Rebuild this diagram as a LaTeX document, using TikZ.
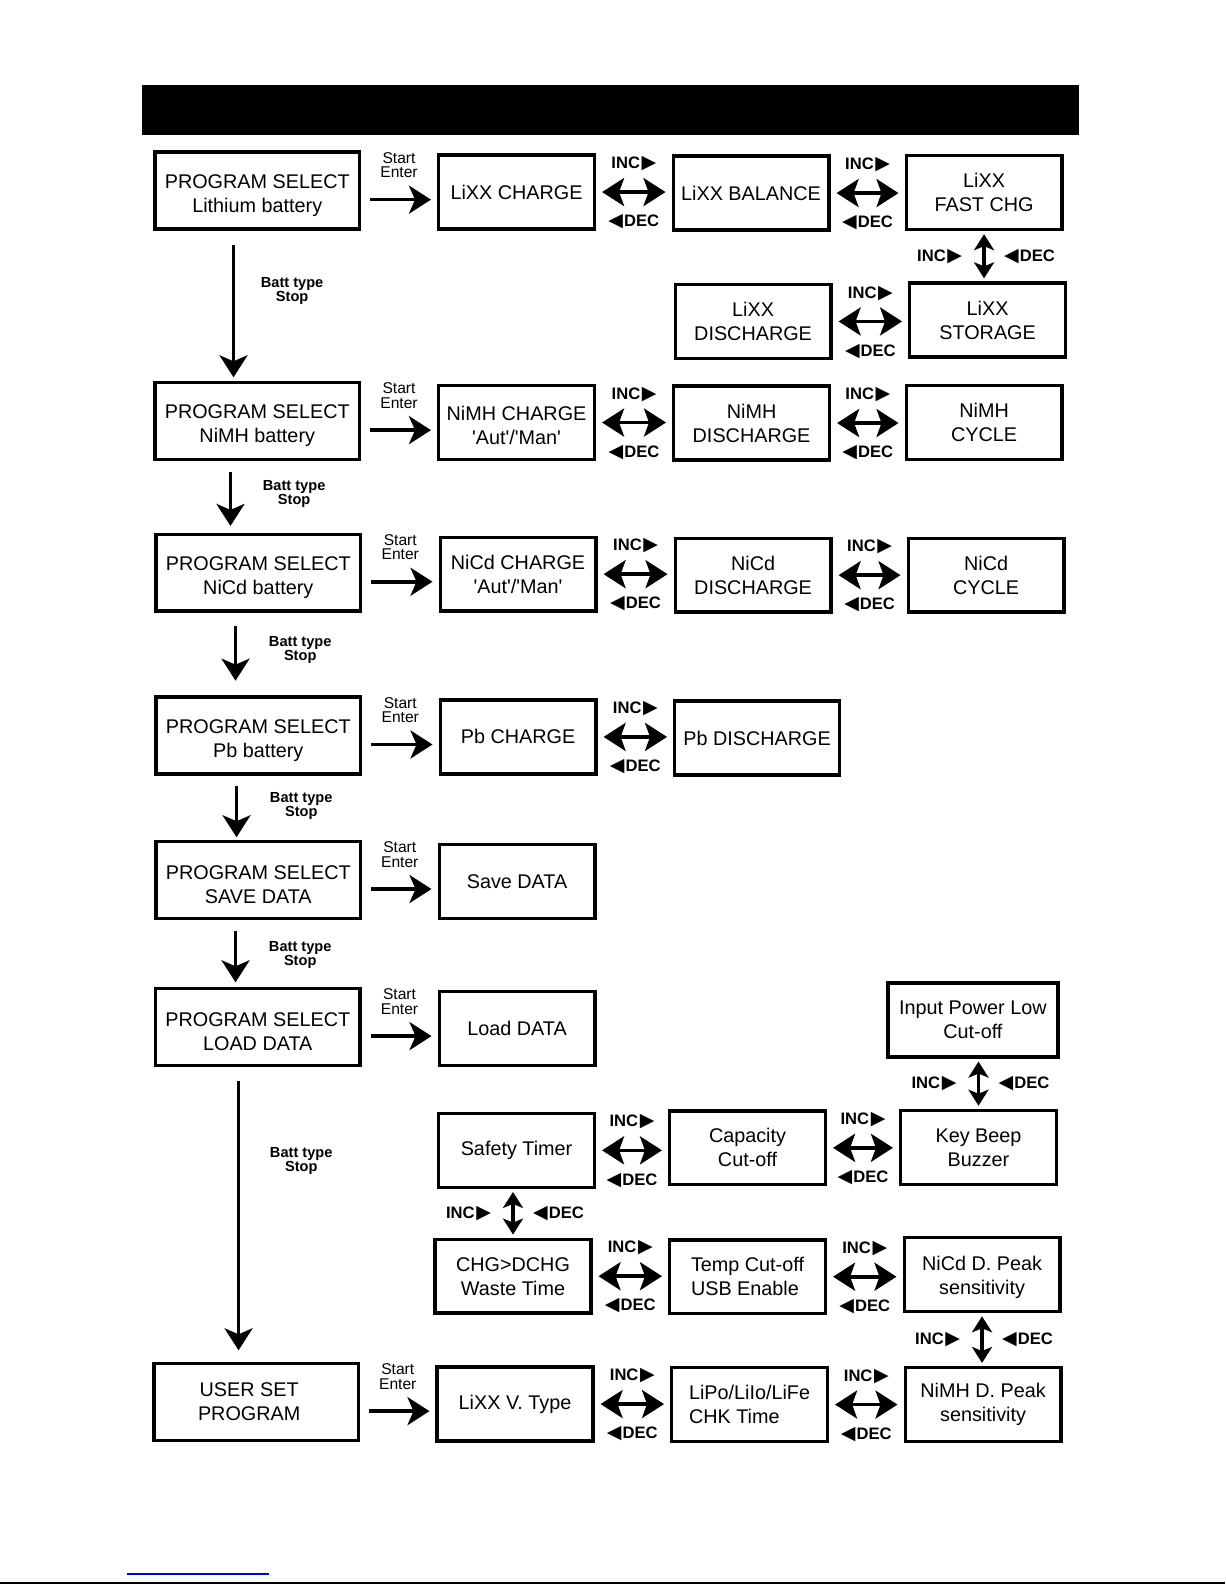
\documentclass[tikz,border=0pt]{standalone}
\usepackage{fontspec}
\setmainfont{Liberation Sans}
\newfontfamily\plainfont{Liberation Sans}
\newfontfamily\symfont{DejaVu Sans}
\usetikzlibrary{arrows.meta}

\newlength\px
\setlength\px{0.50535pt}

\tikzset{
  box/.style={draw, line width=1.7pt, minimum width=154\px, minimum height=73\px,
    inner sep=0pt, align=center, font=\plainfont\fontsize{9.9}{12}\selectfont},
  selbox/.style={box, minimum width=202\px, minimum height=76\px},
  go/.style={line width=1.8pt, -{Stealth[length=11pt,width=14pt,inset=3pt]}},
  dbl/.style={line width=1.8pt, shorten <=3pt, shorten >=3pt,
    {Stealth[length=11pt,width=14pt,inset=2.5pt]}-{Stealth[length=11pt,width=14pt,inset=2.5pt]}},
  vdbl/.style={line width=1.8pt, shorten <=1.5pt, shorten >=1.5pt,
    {Stealth[length=8pt,width=10pt,inset=2pt]}-{Stealth[length=8pt,width=10pt,inset=2pt]}},
  keylab/.style={inner sep=0pt, font=\bfseries\fontsize{8.3}{8.3}\selectfont},
  startlab/.style={inner sep=0pt, align=center, font=\fontsize{7.8}{7.2}\selectfont},
  battlab/.style={inner sep=0pt, align=center, font=\bfseries\fontsize{7.3}{7}\selectfont}
}

\newcommand{\rtri}{\kern0.8pt{\symfont\fontsize{9.5}{9.5}\selectfont ▶}}
\newcommand{\ltri}{{\symfont\fontsize{9.5}{9.5}\selectfont ◀}\kern0.5pt}
\newcommand{\psel}[1]{\rule{0pt}{12pt}PROGRAM SELECT\\#1}

% INC/DEC arrow between two boxes in a row
\newcommand{\hlink}[2]{%
  \draw[dbl] (#1.east) -- (#1.east -| #2.west)
    node[keylab, midway, yshift=28\px] (#1-#2-inc) {INC\rtri}
    node[keylab, midway, yshift=-29.5\px] (#1-#2-dec) {\ltri DEC};}
% INC/DEC arrow between two boxes in a column
\newcommand{\vlink}[3]{%
  \draw[vdbl] (#1.south -| #3) -- (#2.north -| #3)
    node[keylab, midway, xshift=-44\px] (#1-#2-inc) {INC\rtri}
    node[keylab, midway, xshift=45\px] (#1-#2-dec) {\ltri DEC};}
% Start/Enter arrow
\newcommand{\startlink}[2]{%
  \draw[go, shorten <=4.5pt, shorten >=3pt] ([yshift=-9\px]#1.east) -- ([yshift=-9\px]#1.east -| #2.west)
    node[startlab, midway, yshift=34\px] (#1-start) {Start\\Enter};}

\begin{document}
\begin{tikzpicture}[x=1\px, y=-1\px]
  \useasboundingbox (0,0) rectangle (1212,1568);
  \fill (140,84) rectangle (1067,134);

  % program select column
  \node[selbox] (psli)    at (254.5,188.5) {\psel{Lithium battery}};
  \node[selbox] (psnimh)  at (254.5,416.5) {\psel{NiMH battery}};
  \node[selbox] (psnicd)  at (255.5,566.5) {\psel{NiCd battery}};
  \node[selbox] (pspb)    at (255.5,727.5) {\psel{Pb battery}};
  \node[selbox] (pssave)  at (255.5,870.5) {\psel{SAVE DATA}};
  \node[selbox] (psload)  at (255,1016)    {\psel{LOAD DATA}};
  \node[selbox] (userset) at (253.5,1387)  {USER SET\hspace*{14\px}\\PROGRAM\hspace*{14\px}};

  % lithium
  \node[box] (lichg)  at (511,190)   {LiXX CHARGE};
  \node[box] (libal)  at (743,191)   {LiXX BALANCE};
  \node[box] (lifast) at (973.5,190.5) {LiXX\\FAST CHG};
  \node[box] (lidis)  at (745,318)   {LiXX\\DISCHARGE};
  \node[box] (listor) at (977,316.5) {LiXX\\STORAGE};

  % nimh / nicd / pb
  \node[box] (nimhchg) at (511,418)   {\rule{0pt}{10pt}NiMH CHARGE\\'Aut'/'Man'};
  \node[box] (nimhdis) at (743.5,418.5) {NiMH\\DISCHARGE};
  \node[box] (nimhcyc) at (973.5,418) {NiMH\\CYCLE};
  \node[box] (nicdchg) at (512.5,568) {NiCd CHARGE\\'Aut'/'Man'};
  \node[box] (nicddis) at (745,569)   {NiCd\\DISCHARGE};
  \node[box] (nicdcyc) at (975.5,569) {NiCd\\CYCLE};
  \node[box] (pbchg)   at (512.5,729) {Pb CHARGE};
  \node[box, minimum width=163\px] (pbdis) at (749,730) {Pb DISCHARGE};

  % data
  \node[box] (savedata) at (511.5,872)    {Save DATA};
  \node[box] (loaddata) at (511.5,1017.5) {Load DATA};

  % user set
  \node[box, minimum width=168\px] (inpow) at (962.5,1009) {Input Power Low\\Cut-off};
  \node[box] (safety)   at (511,1138)    {Safety Timer};
  \node[box] (capac)    at (739.5,1135.5) {Capacity\\Cut-off};
  \node[box] (keybeep)  at (968,1135)    {Key Beep\\Buzzer};
  \node[box] (chgdchg)  at (507.5,1262.5) {CHG>DCHG\\Waste Time};
  \node[box, align=left] (tempcut) at (739.5,1263) {Temp Cut-off\\USB Enable};
  \node[box] (nicdpeak) at (971.5,1261)  {\rule{0pt}{10pt}NiCd D. Peak\\sensitivity};
  \node[box] (lixxv)    at (509.5,1389)  {LiXX V. Type};
  \node[box, align=left] (lipo) at (741.5,1389.5) {LiPo/LiIo/LiFe\\CHK Time};
  \node[box] (nimhpeak) at (972.5,1389.5) {NiMH D. Peak\\sensitivity};

  % start / enter
  \startlink{psli}{lichg}
  \startlink{psnimh}{nimhchg}
  \startlink{psnicd}{nicdchg}
  \startlink{pspb}{pbchg}
  \startlink{pssave}{savedata}
  \startlink{psload}{loaddata}
  \startlink{userset}{lixxv}

  % inc / dec
  \hlink{lichg}{libal}
  \hlink{libal}{lifast}
  \vlink{lifast}{listor}{lifast}
  \hlink{lidis}{listor}
  \hlink{nimhchg}{nimhdis}
  \hlink{nimhdis}{nimhcyc}
  \hlink{nicdchg}{nicddis}
  \hlink{nicddis}{nicdcyc}
  \hlink{pbchg}{pbdis}
  \vlink{inpow}{keybeep}{keybeep}
  \hlink{safety}{capac}
  \hlink{capac}{keybeep}
  \vlink{safety}{chgdchg}{chgdchg}
  \hlink{chgdchg}{tempcut}
  \hlink{tempcut}{nicdpeak}
  \vlink{nicdpeak}{nimhpeak}{nicdpeak}
  \hlink{lixxv}{lipo}
  \hlink{lipo}{nimhpeak}

  % batt type / stop
  \draw[go, shorten <=7.3pt, shorten >=1.8pt] ([xshift=-23.5\px]psli.south) -- ([xshift=-23.5\px]psli.south |- psnimh.north)
    node[battlab, pos=.4, xshift=58\px] (batt1) {Batt type\\Stop};
  \draw[go, shorten <=5.3pt, shorten >=3.3pt] ([xshift=-26.5\px]psnimh.south) -- ([xshift=-26.5\px]psnimh.south |- psnicd.north)
    node[battlab, pos=.46, xshift=63\px] (batt2) {Batt type\\Stop};
  \draw[go, shorten <=6.8pt, shorten >=7.3pt] ([xshift=-22.5\px]psnicd.south) -- ([xshift=-22.5\px]psnicd.south |- pspb.north)
    node[battlab, pos=.45, xshift=64\px] (batt3) {Batt type\\Stop};
  \draw[go, shorten <=5.3pt, shorten >=1.3pt] ([xshift=-21.5\px]pspb.south) -- ([xshift=-21.5\px]pspb.south |- pssave.north)
    node[battlab, pos=.48, xshift=64\px] (batt4) {Batt type\\Stop};
  \draw[go, shorten <=5.3pt, shorten >=2.3pt] ([xshift=-22.5\px]pssave.south) -- ([xshift=-22.5\px]pssave.south |- psload.north)
    node[battlab, pos=.52, xshift=64\px] (batt5) {Batt type\\Stop};
  \draw[go, shorten <=6.8pt, shorten >=5.8pt] ([xshift=-19\px]psload.south) -- ([xshift=-19\px]psload.south |- userset.north)
    node[battlab, pos=.32, xshift=62\px] (batt6) {Batt type\\Stop};

  % page foot
  \draw[blue!85!black, line width=0.8pt] (126,1557) -- (266,1557);
  \draw[line width=1.2pt] (0,1566) -- (1212,1566);
\end{tikzpicture}
\end{document}
